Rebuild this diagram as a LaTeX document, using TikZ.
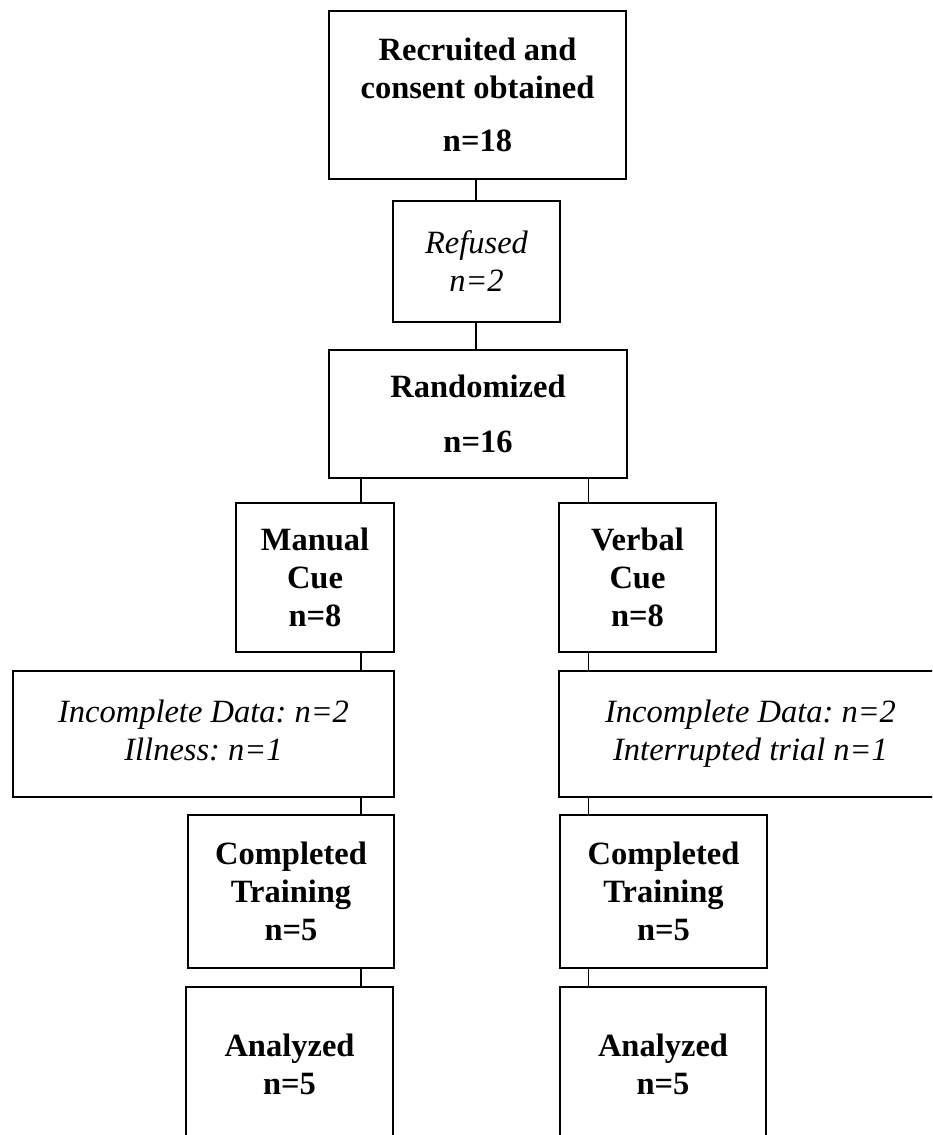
\documentclass[tikz,border=0pt]{standalone}
\usepackage{fontspec}
\setmainfont{Liberation Serif}
\frenchspacing
\begin{document}
\begin{tikzpicture}[x=1pt,y=-1pt,
  box/.style={draw, line width=2.2pt, align=center, inner sep=0pt,
    font=\fontsize{32.5}{38}\selectfont\bfseries},
  ibox/.style={box, font=\fontsize{32.5}{38}\selectfont\itshape\frenchspacing},
  link/.style={line width=1.2pt}]
\useasboundingbox (0,0) rectangle (932,1135);
\clip (0,0) rectangle (932,1135);
\fill[white] (0,0) rectangle (932,1135);
\coordinate (xl) at (361,0);
\coordinate (xr) at (588.5,0);
\coordinate (xm) at (476,0);
\node[box, minimum width=297pt, minimum height=168pt] (top) at (477.5,95)
  {Recruited and\\consent obtained\\[15pt]n=18};
\node[ibox, minimum width=167pt, minimum height=121pt] (ref) at (476.5,261.5)
  {Refused\\n=2};
\node[box, minimum width=298pt, minimum height=128pt] (rand) at (478,414)
  {Randomized\\[17pt]n=16};
\node[box, minimum width=158pt, minimum height=149pt] (man) at (315,577.5)
  {Manual\\Cue\\n=8};
\node[box, minimum width=157pt, minimum height=149pt] (verb) at (637.5,577.5)
  {Verbal\\Cue\\n=8};
\node[ibox, minimum width=381pt, minimum height=126pt] (incl) at (203.5,734)
  {\strut Incomplete Data: n=2\\Illness: n=1\strut};
\node[ibox, minimum width=383pt, minimum height=126pt] (incr) at (750.5,734)
  {\strut Incomplete Data: n=2\\Interrupted trial n=1\strut};
\node[box, minimum width=206pt, minimum height=153pt] (compl) at (291,891.5)
  {Completed\\Training\\n=5};
\node[box, minimum width=207pt, minimum height=153pt] (compr) at (663.5,891.5)
  {Completed\\Training\\n=5};
\node[box, minimum width=207pt, minimum height=154pt] (anal) at (289.5,1064)
  {Analyzed\\n=5};
\node[box, minimum width=206pt, minimum height=154pt] (anar) at (663,1064)
  {Analyzed\\n=5};
\draw[link] (top.south -| xm) -- (ref.north -| xm);
\draw[link] (ref.south -| xm) -- (rand.north -| xm);
\draw[link] (rand.south -| xl) -- (man.north -| xl);
\draw[link] (man.south -| xl) -- (incl.north -| xl);
\draw[link] (incl.south -| xl) -- (compl.north -| xl);
\draw[link] (compl.south -| xl) -- (anal.north -| xl);
\draw[link] (rand.south -| xr) -- (verb.north -| xr);
\draw[link] (verb.south -| xr) -- (incr.north -| xr);
\draw[link] (incr.south -| xr) -- (compr.north -| xr);
\draw[link] (compr.south -| xr) -- (anar.north -| xr);
\end{tikzpicture}
\end{document}
